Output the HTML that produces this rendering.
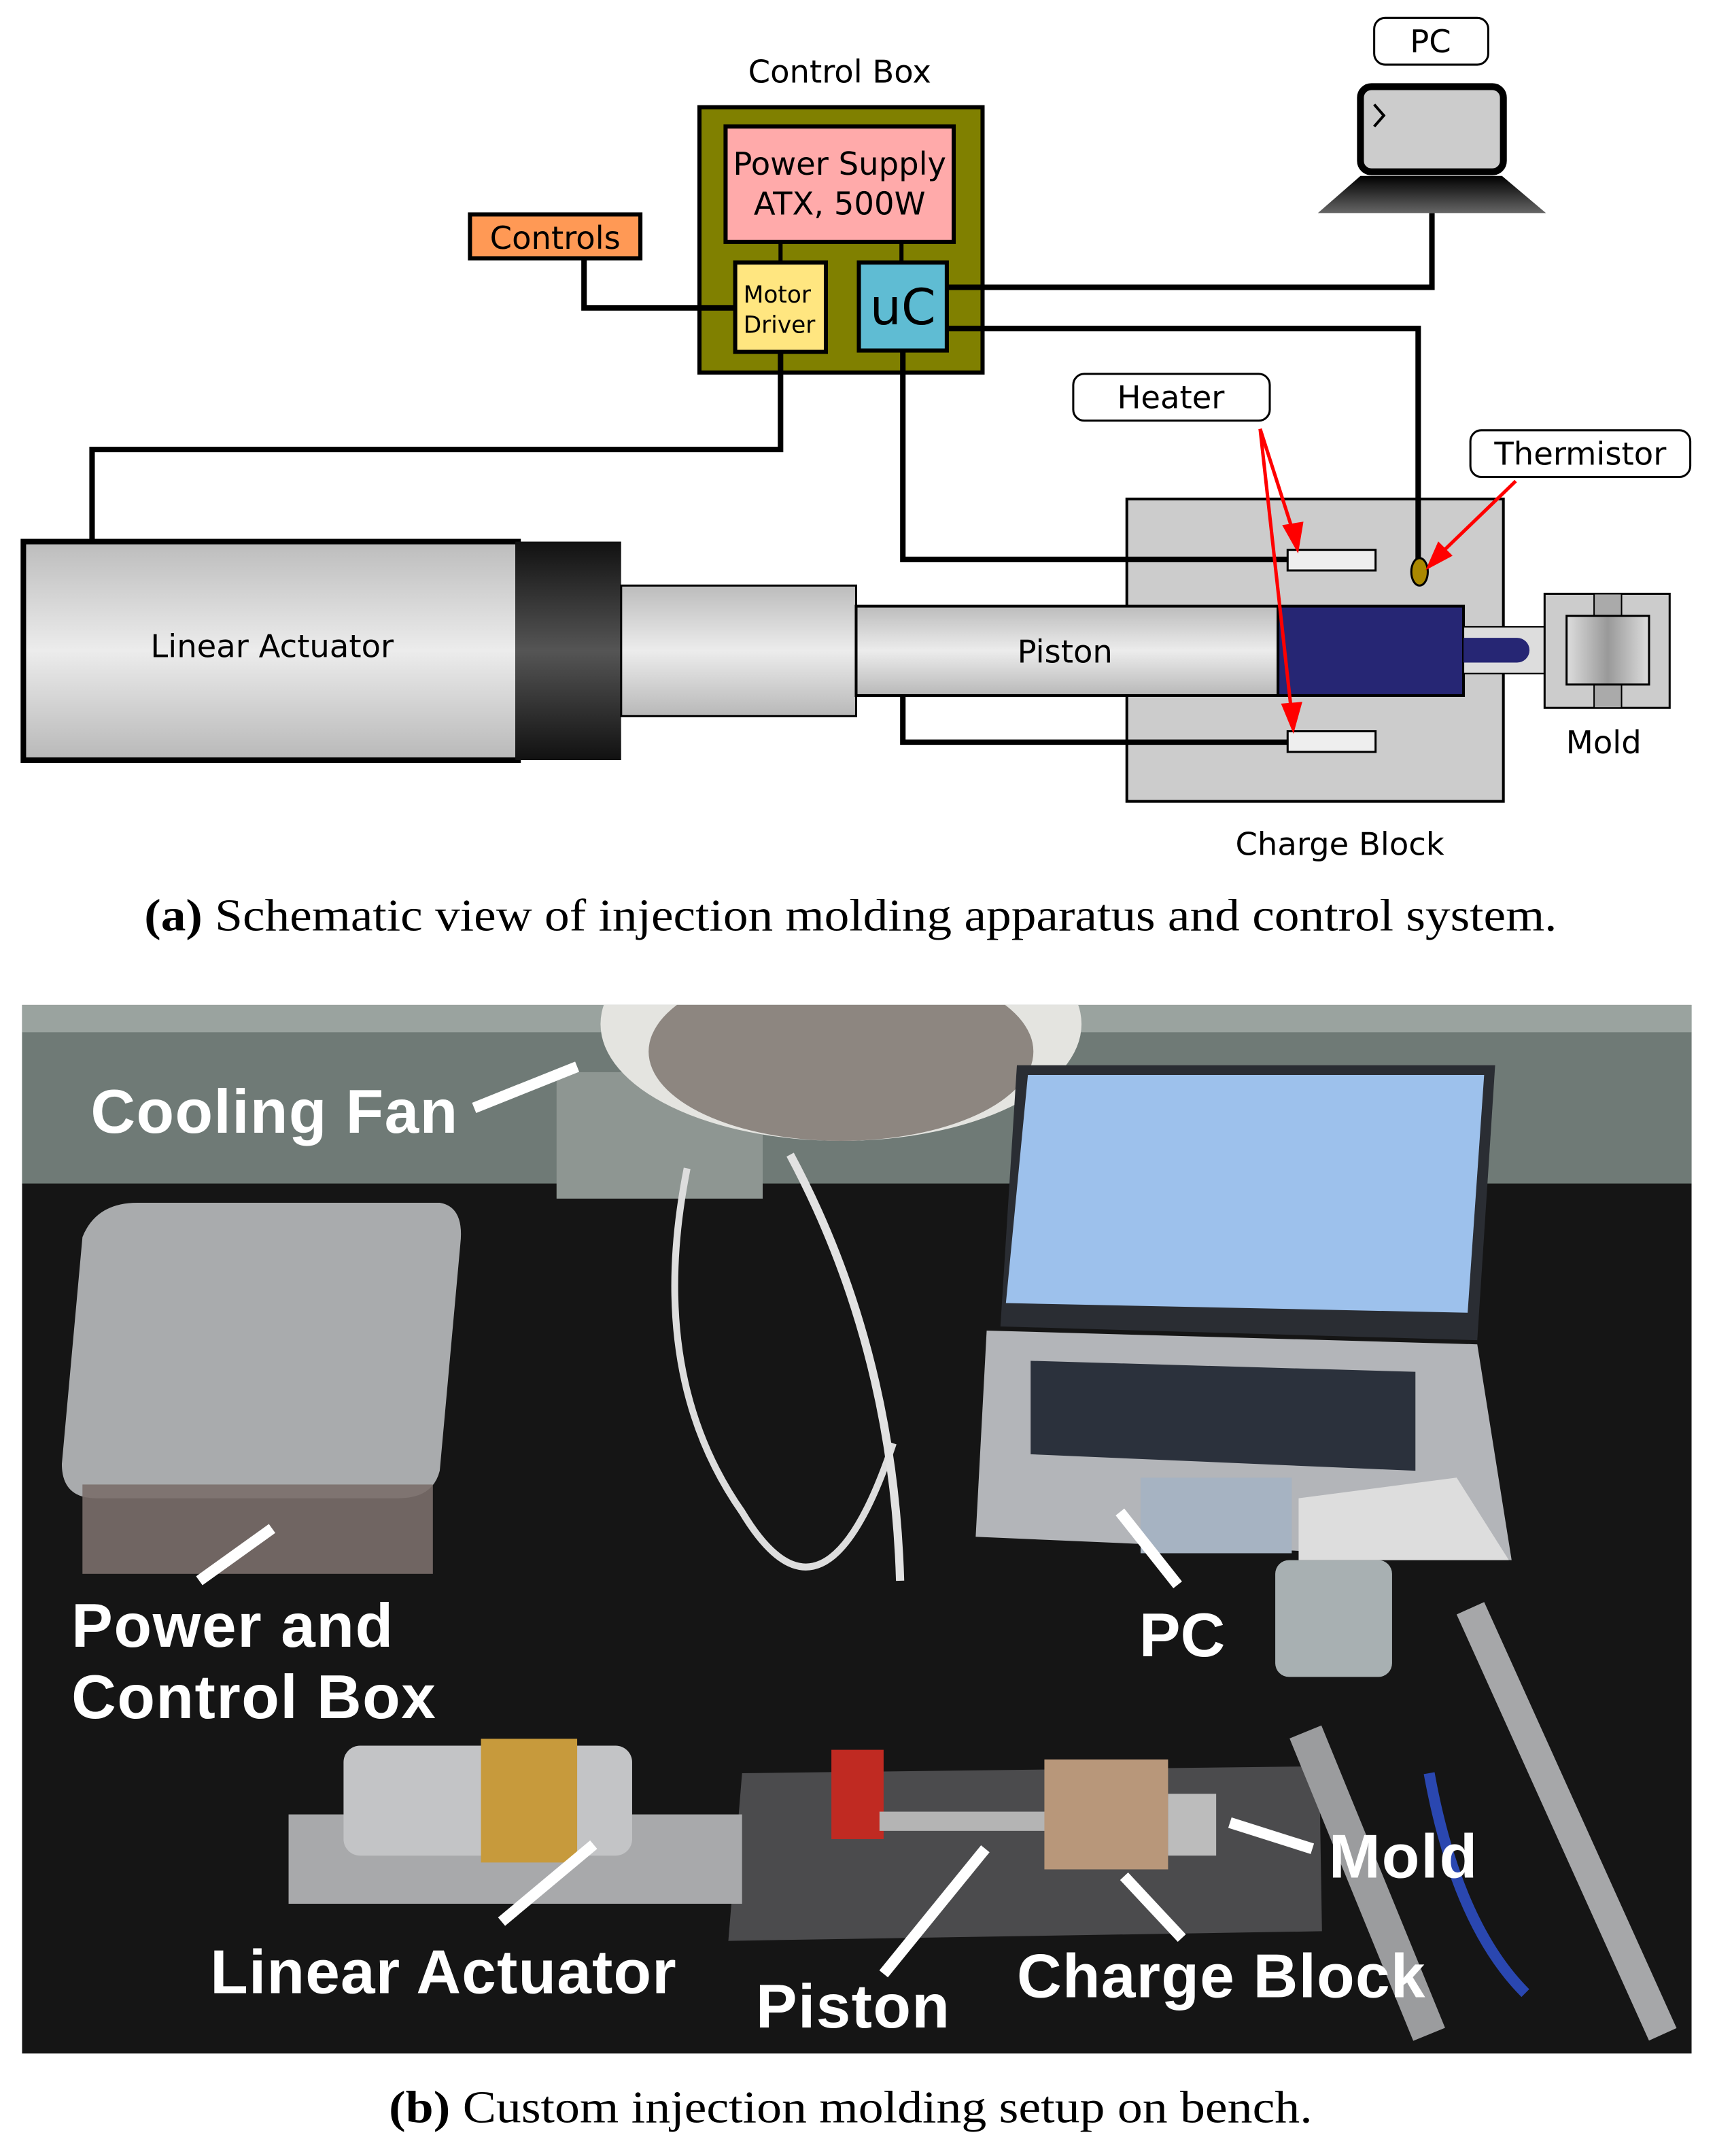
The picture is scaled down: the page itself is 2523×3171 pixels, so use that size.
<!DOCTYPE html>
<html><head><meta charset="utf-8"><style>
html,body{margin:0;padding:0;background:#fff}
svg{display:block}
.s{font-family:"DejaVu Sans","Liberation Sans",sans-serif;fill:#000}
.l{font-family:"Liberation Sans",sans-serif;font-weight:bold;fill:#fff}
.c{font-family:"Liberation Serif",serif;fill:#000}
</style></head><body>
<svg width="2523" height="3171" viewBox="0 0 1248 1568.5" xmlns="http://www.w3.org/2000/svg">
<defs>
<linearGradient id="g1" x1="0" y1="0" x2="0" y2="1"><stop offset="0" stop-color="#bcbcbc"/><stop offset=".5" stop-color="#ececec"/><stop offset="1" stop-color="#b8b8b8"/></linearGradient>
<linearGradient id="g2" x1="0" y1="0" x2="0" y2="1"><stop offset="0" stop-color="#111"/><stop offset=".5" stop-color="#555"/><stop offset="1" stop-color="#111"/></linearGradient>
<linearGradient id="g3" x1="0" y1="0" x2="0" y2="1"><stop offset="0" stop-color="#000"/><stop offset="1" stop-color="#666"/></linearGradient>
<linearGradient id="g4" x1="0" y1="0" x2="1" y2="0"><stop offset="0" stop-color="#ddd"/><stop offset=".5" stop-color="#999"/><stop offset="1" stop-color="#ddd"/></linearGradient>
<clipPath id="ph"><rect x="16" y="731" width="1215" height="763"/></clipPath>
</defs>
<rect width="1248" height="1569" fill="#fff"/>
<text class="s" x="611" y="60" font-size="23" text-anchor="middle">Control Box</text>
<!-- actuator -->
<rect x="17" y="394" width="360" height="159" fill="url(#g1)" stroke="#000" stroke-width="4"/>
<rect x="375" y="394" width="77" height="159" fill="url(#g2)"/>
<text class="s" x="198" y="478" font-size="23" text-anchor="middle">Linear Actuator</text>
<rect x="452" y="426" width="171" height="95" fill="url(#g1)" stroke="#000" stroke-width="1.5"/>
<!-- charge block -->
<rect x="820" y="363" width="274" height="220" fill="#ccc" stroke="#000" stroke-width="2"/>
<!-- wires -->
<g fill="none" stroke="#000" stroke-width="4">
<polyline points="425,188 425,224 535,224"/>
<polyline points="689,209 1042,209 1042,155"/>
<polyline points="689,239 1032,239 1032,410"/>
<polyline points="657,255 657,407 937,407"/>
<polyline points="657,441 657,540 937,540"/>
<polyline points="568,256 568,327 67,327 67,394"/>
</g>
<rect x="509" y="78" width="206" height="193" fill="#808000" stroke="#000" stroke-width="3"/>
<line x1="568" y1="176" x2="568" y2="191" stroke="#000" stroke-width="3"/>
<line x1="656" y1="176" x2="656" y2="191" stroke="#000" stroke-width="3"/>
<line x1="568" y1="256" x2="568" y2="271" stroke="#000" stroke-width="4"/>
<line x1="657" y1="255" x2="657" y2="271" stroke="#000" stroke-width="4"/>
<line x1="509" y1="224" x2="535" y2="224" stroke="#000" stroke-width="4"/>
<line x1="689" y1="209" x2="715" y2="209" stroke="#000" stroke-width="4"/>
<line x1="689" y1="239" x2="715" y2="239" stroke="#000" stroke-width="4"/>
<rect x="528" y="92" width="166" height="84" fill="#ffaaaa" stroke="#000" stroke-width="3"/>
<text class="s" x="611" y="127" font-size="23" text-anchor="middle">Power Supply</text>
<text class="s" x="611" y="156" font-size="23" text-anchor="middle">ATX, 500W</text>
<rect x="535" y="191" width="66" height="65" fill="#ffe680" stroke="#000" stroke-width="3"/>
<text class="s" x="541" y="220" font-size="17">Motor</text>
<text class="s" x="541" y="242" font-size="17">Driver</text>
<rect x="625" y="191" width="64" height="64" fill="#5fbcd3" stroke="#000" stroke-width="3"/>
<text class="s" x="657" y="236" font-size="36" text-anchor="middle">uC</text>
<rect x="342" y="156" width="124" height="32" fill="#ff9955" stroke="#000" stroke-width="3"/>
<text class="s" x="404" y="181" font-size="23" text-anchor="middle">Controls</text>
<!-- PC -->
<rect x="1000" y="13" width="83" height="34" rx="8" fill="#fff" stroke="#000" stroke-width="1.5"/>
<text class="s" x="1041" y="38" font-size="23" text-anchor="middle">PC</text>
<rect x="990" y="63" width="104" height="62" rx="8" fill="#ccc" stroke="#000" stroke-width="5"/>
<polyline points="1000,76 1007,84 1000,92" fill="none" stroke="#000" stroke-width="2"/>
<polygon points="990,128 1093,128 1125,155 959,155" fill="url(#g3)"/>
<rect x="623" y="441" width="307" height="65" fill="url(#g1)" stroke="#000" stroke-width="2"/>
<text class="s" x="775" y="482" font-size="23" text-anchor="middle">Piston</text>
<rect x="930" y="441" width="135" height="65" fill="#262674" stroke="#000" stroke-width="2"/>
<rect x="1065" y="456" width="80" height="34" fill="#ddd" stroke="#000" stroke-width="1"/>
<path d="M1065,464 H1104 A9,9 0 0 1 1104,482 H1065 Z" fill="#262674"/>
<rect x="1124" y="432" width="91" height="83" fill="#ccc" stroke="#000" stroke-width="1.5"/>
<rect x="1160" y="432" width="20" height="83" fill="#aaa" stroke="#000" stroke-width="1"/>
<rect x="1140" y="448" width="60" height="50" fill="url(#g4)" stroke="#000" stroke-width="1.5"/>
<rect x="937" y="400" width="64" height="15" fill="#eee" stroke="#000" stroke-width="1.5"/>
<rect x="937" y="532" width="64" height="15" fill="#eee" stroke="#000" stroke-width="1.5"/>
<ellipse cx="1033" cy="416" rx="6" ry="10" fill="#aa8800" stroke="#000" stroke-width="1.5"/>
<!-- labels -->
<rect x="781" y="272" width="143" height="34" rx="8" fill="#fff" stroke="#000" stroke-width="1.5"/>
<text class="s" x="852" y="297" font-size="23" text-anchor="middle">Heater</text>
<rect x="1070" y="313" width="160" height="34" rx="8" fill="#fff" stroke="#000" stroke-width="1.5"/>
<text class="s" x="1150" y="338" font-size="23" text-anchor="middle">Thermistor</text>
<g stroke="#f00" stroke-width="2.5" fill="#f00">
<line x1="917" y1="312" x2="942" y2="390"/><polygon points="944,399 935,383 947,381"/>
<line x1="917" y1="312" x2="940" y2="520"/><polygon points="941,530 934,513 946,512"/>
<line x1="1103" y1="350" x2="1046" y2="405"/><polygon points="1040,412 1047,396 1055,404"/>
</g>
<text class="s" x="1167" y="548" font-size="23" text-anchor="middle">Mold</text>
<text class="s" x="975" y="622" font-size="23" text-anchor="middle">Charge Block</text>
<text class="c" x="105" y="677" font-size="33" textLength="1028" lengthAdjust="spacingAndGlyphs"><tspan font-weight="bold">(a)</tspan> Schematic view of injection molding apparatus and control system.</text>
<!-- photo -->
<g clip-path="url(#ph)">
<rect x="16" y="731" width="1215" height="763" fill="#151515"/>
<rect x="16" y="731" width="1215" height="130" fill="#6f7a76"/>
<rect x="16" y="731" width="1215" height="20" fill="#9aa39f"/>
<rect x="405" y="780" width="150" height="92" fill="#8e9692"/>
<path d="M60,900 Q70,875 100,875 H320 Q338,878 335,905 L320,1070 Q315,1090 290,1090 H70 Q45,1090 45,1065 Z" fill="#a9abad"/>
<rect x="60" y="1080" width="255" height="65" fill="#7a6e6a" opacity=".9"/>
<ellipse cx="612" cy="745" rx="175" ry="85" fill="#e4e4e0"/>
<ellipse cx="612" cy="765" rx="140" ry="65" fill="#8d8680"/>
<polygon points="740,775 1088,775 1075,975 728,965" fill="#2a2d33"/>
<polygon points="748,782 1080,782 1068,955 732,948" fill="#9dc1ec"/>
<polygon points="718,968 1075,978 1100,1135 710,1118" fill="#b3b5b9"/>
<polygon points="750,990 1030,998 1030,1070 750,1058" fill="#2b313c"/>
<rect x="830" y="1075" width="110" height="55" fill="#a6b3c2"/>
<polygon points="945,1090 1060,1075 1098,1135 945,1135" fill="#ddd"/>
<rect x="928" y="1135" width="85" height="85" rx="10" fill="#a8b0b2"/>
<polygon points="540,1290 960,1285 962,1405 530,1412" fill="#4b4b4d"/>
<rect x="210" y="1320" width="330" height="65" fill="#a8a9ab"/>
<rect x="250" y="1270" width="210" height="80" rx="12" fill="#c3c4c6"/>
<rect x="350" y="1265" width="70" height="90" fill="#c79a3c"/>
<rect x="605" y="1273" width="38" height="65" fill="#c02a22"/>
<rect x="640" y="1318" width="125" height="14" fill="#b4b4b4"/>
<rect x="760" y="1280" width="90" height="80" fill="#b8977a"/>
<rect x="850" y="1305" width="35" height="45" fill="#bcbcbc"/>
<path d="M950,1260 L1040,1480" stroke="#9b9c9e" stroke-width="25"/>
<path d="M1070,1170 L1210,1480" stroke="#a6a7a9" stroke-width="22"/>
<path d="M1040,1290 Q1060,1400 1110,1450" stroke="#2a47b0" stroke-width="8" fill="none"/>
<path d="M500,850 Q470,1000 540,1100 Q600,1200 650,1050" stroke="#ddd" stroke-width="5" fill="none"/>
<path d="M575,840 Q650,980 655,1150" stroke="#e2e2e2" stroke-width="6" fill="none"/>
</g>
<g stroke="#fff" stroke-width="8">
<line x1="345" y1="806" x2="420" y2="776"/>
<line x1="145" y1="1150" x2="198" y2="1112"/>
<line x1="815" y1="1100" x2="857" y2="1153"/>
<line x1="895" y1="1326" x2="955" y2="1345"/>
<line x1="365" y1="1398" x2="432" y2="1342"/>
<line x1="643" y1="1436" x2="717" y2="1345"/>
<line x1="818" y1="1365" x2="860" y2="1410"/>
</g>
<g class="l" font-size="45">
<text x="66" y="824" textLength="267">Cooling Fan</text>
<text x="52" y="1198" textLength="234">Power and</text>
<text x="52" y="1250" textLength="265">Control Box</text>
<text x="829" y="1205">PC</text>
<text x="967" y="1366" textLength="108">Mold</text>
<text x="153" y="1450" textLength="339">Linear Actuator</text>
<text x="550" y="1475" textLength="141">Piston</text>
<text x="740" y="1453" textLength="297">Charge Block</text>
</g>
<text class="c" x="283" y="1544" font-size="33" textLength="672" lengthAdjust="spacingAndGlyphs"><tspan font-weight="bold">(b)</tspan> Custom injection molding setup on bench.</text>
</svg>
</body></html>
